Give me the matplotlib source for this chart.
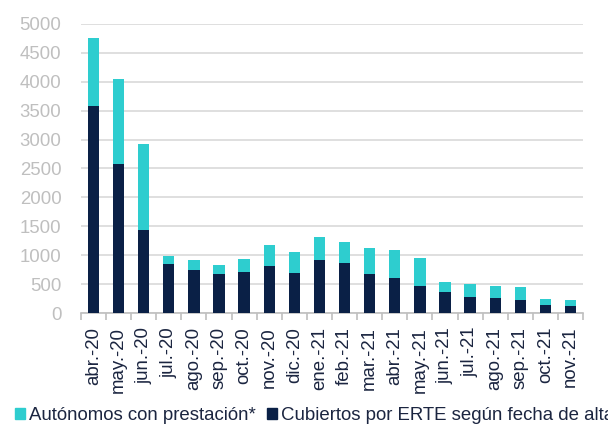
import numpy as np
import matplotlib
matplotlib.use("Agg")
import matplotlib.pyplot as plt
from matplotlib.patches import Patch

plt.rcParams["font.family"] = ["Liberation Sans", "DejaVu Sans"]

months = ["abr.-20", "may.-20", "jun.-20", "jul.-20", "ago.-20", "sep.-20", "oct.-20",
          "nov.-20", "dic.-20", "ene.-21", "feb.-21", "mar.-21", "abr.-21", "may.-21",
          "jun.-21", "jul.-21", "ago.-21", "sep.-21", "oct.-21", "nov.-21"]
# totals (top of stack) and the ERTE part (dark bottom)
totals = [4760, 4045, 2920, 995, 912, 826, 940, 1185, 1055, 1312, 1230, 1118, 1090, 950,
          532, 502, 474, 445, 252, 222]
erte = [3582, 2586, 1430, 852, 737, 682, 716, 820, 685, 921, 863, 670, 612, 472,
        362, 280, 256, 222, 134, 117]
autonomos = [t - e for t, e in zip(totals, erte)]

teal = "#2ECDCF"
navy = "#0A2046"
text_col = "#1B2540"

fig = plt.figure(figsize=(6.08, 4.26), dpi=100)
ax = fig.add_axes([0.133, 0.265, 0.826, 0.679])

x = np.arange(len(months))
ax.bar(x, erte, 0.45, color=navy, zorder=3)
ax.bar(x, autonomos, 0.45, bottom=erte, color=teal, zorder=3)

ax.set_xlim(-0.5, len(months) - 0.5)
ax.set_ylim(0, 5000)
ax.set_yticks(np.arange(0, 5001, 500))
ax.grid(axis="y", color="#D9D9D9", linewidth=1.2, zorder=0)

for s in ["top", "right", "left"]:
    ax.spines[s].set_visible(False)
ax.spines["bottom"].set_color("#BFBFBF")
ax.spines["bottom"].set_linewidth(1.2)

ax.set_xticks(x)
ax.set_xticklabels(months, rotation=90, fontsize=13.4, color=text_col)
ax.set_xticks(np.arange(-0.5, len(months), 1), minor=True)
ax.tick_params(axis="x", which="major", length=0, pad=10)
ax.tick_params(axis="x", which="minor", length=5, color="#BFBFBF", width=1.2)
ax.tick_params(axis="y", length=0, labelsize=13.4, labelcolor="#BFBFBF", pad=14)

handles = [Patch(color=teal), Patch(color=navy)]
labels = ["Autónomos con prestación*", "Cubiertos por ERTE según fecha de alta"]
fig.legend(handles, labels, loc="lower left", bbox_to_anchor=(-0.003, -0.035), ncol=2,
           frameon=False, fontsize=13.4, handlelength=0.55, handleheight=0.55,
           handletextpad=0.2, columnspacing=0.6, labelcolor=text_col)

fig.savefig("out.png", dpi=100)
